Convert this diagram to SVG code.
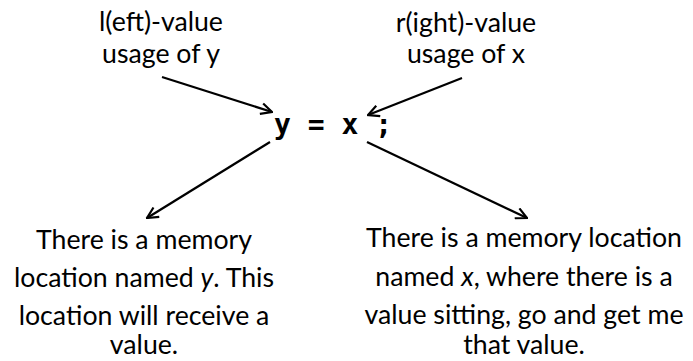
<svg xmlns="http://www.w3.org/2000/svg" width="693" height="361" viewBox="0 0 693 361">
<defs>
<style>
.t{font-family:Lato,"Open Sans","Liberation Sans",sans-serif;font-size:26.7px;fill:#000;text-anchor:middle}
.code{font-family:"DejaVu Sans Mono","Liberation Mono",monospace;font-size:28px;font-weight:bold;fill:#000}
.c{stroke:#000;stroke-width:2.2;fill:none;marker-end:url(#ah)}
</style>
<marker id="ah" viewBox="0 0 12 12" refX="11" refY="6" markerWidth="6" markerHeight="6" orient="auto" markerUnits="strokeWidth">
<path d="M1,1 L11,6 L1,11" fill="none" stroke="#000" stroke-width="2"/>
</marker>
</defs>
<rect width="693" height="361" fill="#fff"/>
<g id="lvalue">
<text class="t" x="161" y="31">l(eft)-value</text>
<text class="t" x="161" y="63">usage of y</text>
</g>
<g id="rvalue">
<text class="t" x="466" y="32">r(ight)-value</text>
<text class="t" x="466" y="63">usage of x</text>
</g>
<g id="code">
<text class="code" x="274" y="134" xml:space="preserve">y = x ;</text>
</g>
<g id="ydesc">
<text class="t" x="144" y="249">There is a memory</text>
<text class="t" x="144" y="287">location named <tspan font-style="italic">y</tspan>. This</text>
<text class="t" x="144" y="325">location will receive a</text>
<text class="t" x="144" y="354">value.</text>
</g>
<g id="xdesc">
<text class="t" x="524" y="247">There is a memory location</text>
<text class="t" x="524" y="286">named <tspan font-style="italic">x</tspan>, where there is a</text>
<text class="t" x="524" y="324">value sitting, go and get me</text>
<text class="t" x="524" y="354">that value.</text>
</g>
<g id="connectors">
<line class="c" x1="162" y1="77" x2="272" y2="112"/>
<line class="c" x1="462" y1="78" x2="368" y2="115"/>
<line class="c" x1="270" y1="142" x2="147" y2="218"/>
<line class="c" x1="367" y1="142" x2="527" y2="218"/>
</g>
</svg>
